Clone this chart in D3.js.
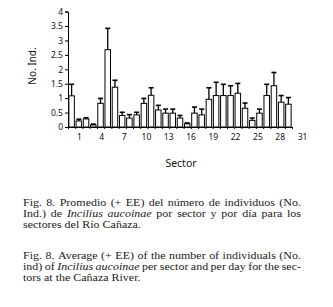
<!DOCTYPE html>
<html>
<head>
<meta charset="utf-8">
<script src="https://cdn.jsdelivr.net/npm/d3@7"></script>
<style>
  body { margin: 0; background: #fff; }
  svg { display: block; }
</style>
</head>
<body>
<div id="chart-container"></div>
<script>
// Data
const sectors = [1, 2, 3, 4, 5, 6, 7, 8, 9, 10, 11, 12, 13, 14, 15, 16,
    17, 18, 19, 20, 21, 22, 23, 24, 25, 26, 27, 28, 29, 30, 31];
const means = [1.08, 0.21, 0.28, 0.07, 0.82, 2.68, 1.38, 0.40, 0.31, 0.42, 0.82,
    1.10, 0.59, 0.48, 0.48, 0.31, 0.11, 0.48, 0.42, 0.96, 1.09, 1.09, 1.09,
    1.17, 0.65, 0.23, 0.48, 1.09, 1.43, 0.86, 0.79];
const upper = [1.48, 0.27, 0.32, 0.10, 0.99, 3.42, 1.62, 0.51, 0.43, 0.51, 0.99,
    1.36, 0.75, 0.62, 0.62, 0.40, 0.14, 0.69, 0.62, 1.36, 1.55, 1.48, 1.43,
    1.51, 0.83, 0.31, 0.62, 1.48, 1.89, 1.09, 1.02];
const yTicks = [0, 0.5, 1, 1.5, 2, 2.5, 3, 3.5, 4];
const xTickLabels = [1, 4, 7, 10, 13, 16, 19, 22, 25, 28, 31];

const captionEs = [
    [["Fig.", "8.", "Promedio", "(+", "EE)", "del", "número", "de", "individuos", "(No."], true],
    [["Ind.)", "de", "<i>Incilius", "<i>aucoinae", "por", "sector", "y", "por", "día", "para", "los"], true],
    [["sectores", "del", "Río", "Cañaza."], false]
];
const captionEn = [
    [["Fig.", "8.", "Average", "(+", "EE)", "of", "the", "number", "of", "individuals", "(No."], true],
    [["ind)", "of", "<i>Incilius", "<i>aucoinae", "per", "sector", "and", "per", "day", "for", "the", "sec-"], true],
    [["tors", "at", "the", "Cañaza", "River."], false]
];

const width = 333, height = 307;
const chartFont = "'Noto Sans', sans-serif";

function init() {
    const svg = d3.select("#chart-container")
        .append("svg")
        .attr("width", width)
        .attr("height", height);

    // Scales
    const x = d3.scaleBand()
        .domain(sectors)
        .range([68, 292])
        .paddingInner(0.24)
        .paddingOuter(0.12);

    const xEdge = d3.scaleLinear()
        .domain([0, sectors.length])
        .range([68, 292]);

    const xLabel = d3.scaleLinear()
        .domain([1, 31])
        .range([79, 302]);

    const y = d3.scaleLinear()
        .domain([0, 4])
        .range([127, 11.6]);

    // Y axis
    const yAxis = svg.append("g")
        .attr("transform", "translate(68,0)")
        .call(d3.axisLeft(y).tickValues(yTicks).tickSize(3).tickPadding(2)
            .tickFormat(d => d));
    yAxis.select(".domain").attr("stroke", "#000");
    yAxis.selectAll("text")
        .style("font-family", chartFont)
        .style("font-size", "8.5px")
        .attr("fill", "#111");

    // Bars
    svg.selectAll("rect.bar")
        .data(sectors)
        .enter()
        .append("rect")
        .attr("class", "bar")
        .attr("x", d => x(d))
        .attr("width", x.bandwidth())
        .attr("y", (d, i) => y(means[i]))
        .attr("height", (d, i) => y(0) - y(means[i]))
        .attr("fill", "#fff")
        .attr("stroke", "#000")
        .attr("stroke-width", 1);

    // Error bars (+ EE)
    const err = svg.selectAll("g.err")
        .data(sectors)
        .enter()
        .append("g")
        .attr("class", "err");
    err.append("line")
        .attr("x1", d => x(d) + x.bandwidth() / 2)
        .attr("x2", d => x(d) + x.bandwidth() / 2)
        .attr("y1", (d, i) => y(means[i]))
        .attr("y2", (d, i) => y(upper[i]))
        .attr("stroke", "#000")
        .attr("stroke-width", 1.3);
    err.append("line")
        .attr("x1", d => x(d) + x.bandwidth() / 2 - 2.5)
        .attr("x2", d => x(d) + x.bandwidth() / 2 + 2.5)
        .attr("y1", (d, i) => y(upper[i]))
        .attr("y2", (d, i) => y(upper[i]))
        .attr("stroke", "#000")
        .attr("stroke-width", 1.6);

    // X axis line and tick marks between sectors
    svg.append("g")
        .attr("transform", `translate(0,${y(0)})`)
        .call(d3.axisBottom(xEdge).tickValues(d3.range(0, sectors.length + 1))
            .tickSize(2).tickSizeOuter(0).tickFormat(""))
        .select(".domain").attr("stroke", "#000");

    // X tick labels
    const xl = svg.append("g")
        .attr("transform", `translate(0,${y(0)})`)
        .call(d3.axisBottom(xLabel).tickValues(xTickLabels).tickSize(0).tickPadding(7));
    xl.select(".domain").remove();
    xl.selectAll("text")
        .style("font-family", chartFont)
        .style("font-size", "8.5px")
        .attr("fill", "#111");

    // Axis titles
    svg.append("text")
        .attr("transform", "translate(36,66) rotate(-90)")
        .attr("text-anchor", "middle")
        .style("font-family", chartFont)
        .style("font-size", "10px")
        .attr("fill", "#111")
        .text("No. Ind.");

    svg.append("text")
        .attr("x", 181)
        .attr("y", 166.5)
        .attr("text-anchor", "middle")
        .style("font-family", chartFont)
        .style("font-size", "10.5px")
        .attr("fill", "#111")
        .text("Sector");

    // Justified caption in a serif face, stretched a little sideways
    function caption(lines, top) {
        const left = 23, right = 301, lh = 10.7, sx = 1.09;
        const avail = (right - left) / sx;
        lines.forEach(([words, justify], li) => {
            const g = svg.append("g")
                .attr("transform", `translate(${left},0) scale(${sx},1)`);
            const nodes = words.map(w => {
                const ital = w.startsWith("<i>");
                return g.append("text")
                    .attr("y", top + li * lh)
                    .style("font-family", "'Liberation Serif', 'Times New Roman', serif")
                    .style("font-size", "11px")
                    .style("font-style", ital ? "italic" : "normal")
                    .attr("fill", "#1a1a1a")
                    .text(ital ? w.slice(3) : w);
            });
            const widths = nodes.map(n => n.node().getComputedTextLength());
            const total = d3.sum(widths);
            const gap = justify ? (avail - total) / (words.length - 1) : 2.75;
            let cx = 0;
            nodes.forEach((n, i) => {
                n.attr("x", cx);
                cx += widths[i] + gap;
            });
        });
    }
    caption(captionEs, 206.5);
    caption(captionEn, 259.5);
}

window.onload = init;
</script>
</body>
</html>
